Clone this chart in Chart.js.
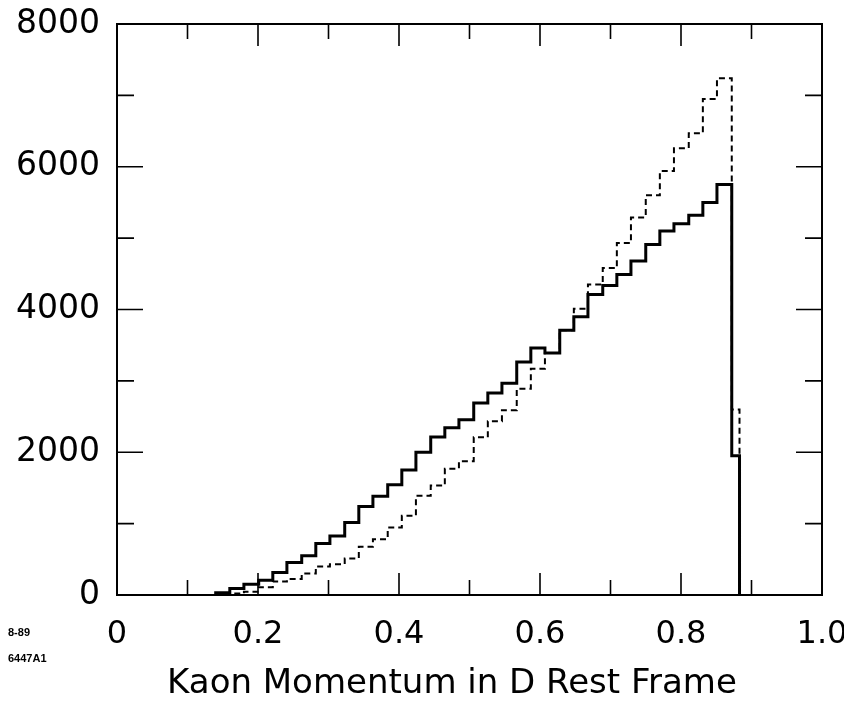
<!DOCTYPE html>
<html>
<head>
<meta charset="utf-8">
<script src="https://cdn.jsdelivr.net/npm/chart.js@4.4.1/dist/chart.umd.min.js"></script>
<style>
    body { margin: 0; background: #fff; }
    canvas { display: block; }
</style>
</head>
<body>
<canvas id="graficoKaon" width="844" height="703"></canvas>
<script>
// bin edges of the histogram (x, momentum)
var binEdges = [0.140, 0.160, 0.180, 0.201, 0.221, 0.241, 0.262, 0.282, 0.302, 0.323,
    0.343, 0.363, 0.384, 0.404, 0.424, 0.445, 0.465, 0.485, 0.506, 0.526,
    0.546, 0.567, 0.587, 0.607, 0.628, 0.648, 0.668, 0.689, 0.709, 0.729,
    0.750, 0.770, 0.790, 0.811, 0.831, 0.851, 0.872, 0.883];

// solid histogram, one value per bin
var solidCounts = [30, 90, 150, 205, 315, 455, 550, 720, 825, 1015,
    1240, 1385, 1545, 1750, 2000, 2215, 2345, 2455, 2690, 2830,
    2965, 3265, 3460, 3390, 3710, 3900, 4210, 4335, 4490, 4680,
    4910, 5100, 5200, 5320, 5500, 5750, 1950];

// dashed histogram
var dashedCounts = [5, 20, 45, 110, 190, 225, 300, 400, 430, 510,
    675, 780, 945, 1110, 1390, 1535, 1770, 1875, 2210, 2435,
    2590, 2890, 3170, 3390, 3710, 4010, 4350, 4580, 4930, 5290,
    5600, 5940, 6260, 6470, 6950, 7240, 2600];

var xTickLabels = ['0', '0.2', '0.4', '0.6', '0.8', '1.0'];
var yTickLabels = ['0', '2000', '4000', '6000', '8000'];
var xMarks = [0.1, 0.2, 0.3, 0.4, 0.5, 0.6, 0.7, 0.8, 0.9];
var yMarks = [1000, 2000, 3000, 4000, 5000, 6000, 7000];
var tituloX = 'Kaon Momentum in D Rest Frame';

var fonte = 'DejaVu Sans';

const montarPontos = function (counts) {
    var pontos = [{ x: binEdges[0], y: 0 }];
    binEdges.forEach((e, i) => {
        pontos.push({ x: e, y: i < counts.length ? counts[i] : 0 });
    });
    return pontos;
}

// frame box + inward tick marks on all four sides, axis title and figure codes
const molduraPlugin = {
    id: 'moldura',
    afterDatasetsDraw(chart) {
        const { ctx, chartArea: a, scales: { x, y } } = chart;
        ctx.save();
        ctx.strokeStyle = '#000';
        ctx.lineWidth = 2;
        ctx.strokeRect(a.left, a.top, a.right - a.left, a.bottom - a.top);

        ctx.lineWidth = 1.6;
        ctx.beginPath();
        xMarks.forEach(v => {
            const px = x.getPixelForValue(v);
            const len = Math.round(v * 10) % 2 === 0 ? 22 : 15;
            ctx.moveTo(px, a.bottom);
            ctx.lineTo(px, a.bottom - len);
            ctx.moveTo(px, a.top);
            ctx.lineTo(px, a.top + len);
        });
        yMarks.forEach(v => {
            const py = y.getPixelForValue(v);
            const len = v % 2000 === 0 ? 26 : 17;
            ctx.moveTo(a.left, py);
            ctx.lineTo(a.left + len, py);
            ctx.moveTo(a.right, py);
            ctx.lineTo(a.right - len, py);
        });
        ctx.stroke();

        ctx.fillStyle = '#000';
        ctx.font = '34px "' + fonte + '"';
        ctx.textAlign = 'center';
        ctx.textBaseline = 'middle';
        ctx.fillText(tituloX, 452, 684);

        ctx.font = 'bold 11px "Liberation Sans"';
        ctx.textAlign = 'left';
        ctx.textBaseline = 'alphabetic';
        ctx.fillText('8-89', 8, 636);
        ctx.fillText('6447A1', 8, 662);
        ctx.restore();
    }
};

const ctx = document.getElementById('graficoKaon').getContext('2d');
var grafico = new Chart(ctx, {
    type: 'line',
    data: {
        datasets: [{
            label: 'solid',
            data: montarPontos(solidCounts),
            borderColor: '#000',
            borderWidth: 3,
            stepped: 'before',
            pointRadius: 0,
            fill: false
        }, {
            label: 'dashed',
            data: montarPontos(dashedCounts),
            borderColor: '#000',
            borderWidth: 2,
            borderDash: [6, 4],
            stepped: 'before',
            pointRadius: 0,
            fill: false
        }]
    },
    options: {
        responsive: false,
        animation: false,
        layout: { padding: { top: 24, right: 22, left: 0, bottom: 0 } },
        plugins: {
            legend: { display: false },
            tooltip: { enabled: false }
        },
        scales: {
            x: {
                type: 'linear',
                min: 0,
                max: 1,
                grid: { display: false, drawTicks: false },
                border: { display: false },
                ticks: {
                    stepSize: 0.2,
                    maxRotation: 0,
                    padding: 20,
                    color: '#000',
                    font: { family: fonte, size: 32 },
                    callback: (v, i) => xTickLabels[i]
                },
                afterFit: s => { s.height = 108; s.paddingRight = 0; s.paddingLeft = 0; }
            },
            y: {
                min: 0,
                max: 8000,
                grid: { display: false, drawTicks: false },
                border: { display: false },
                ticks: {
                    stepSize: 2000,
                    padding: 17,
                    color: '#000',
                    font: { family: fonte, size: 33 },
                    callback: (v, i) => yTickLabels[i]
                },
                afterFit: s => { s.width = 117; s.paddingTop = 0; s.paddingBottom = 0; }
            }
        }
    },
    plugins: [molduraPlugin]
});
</script>
</body>
</html>
